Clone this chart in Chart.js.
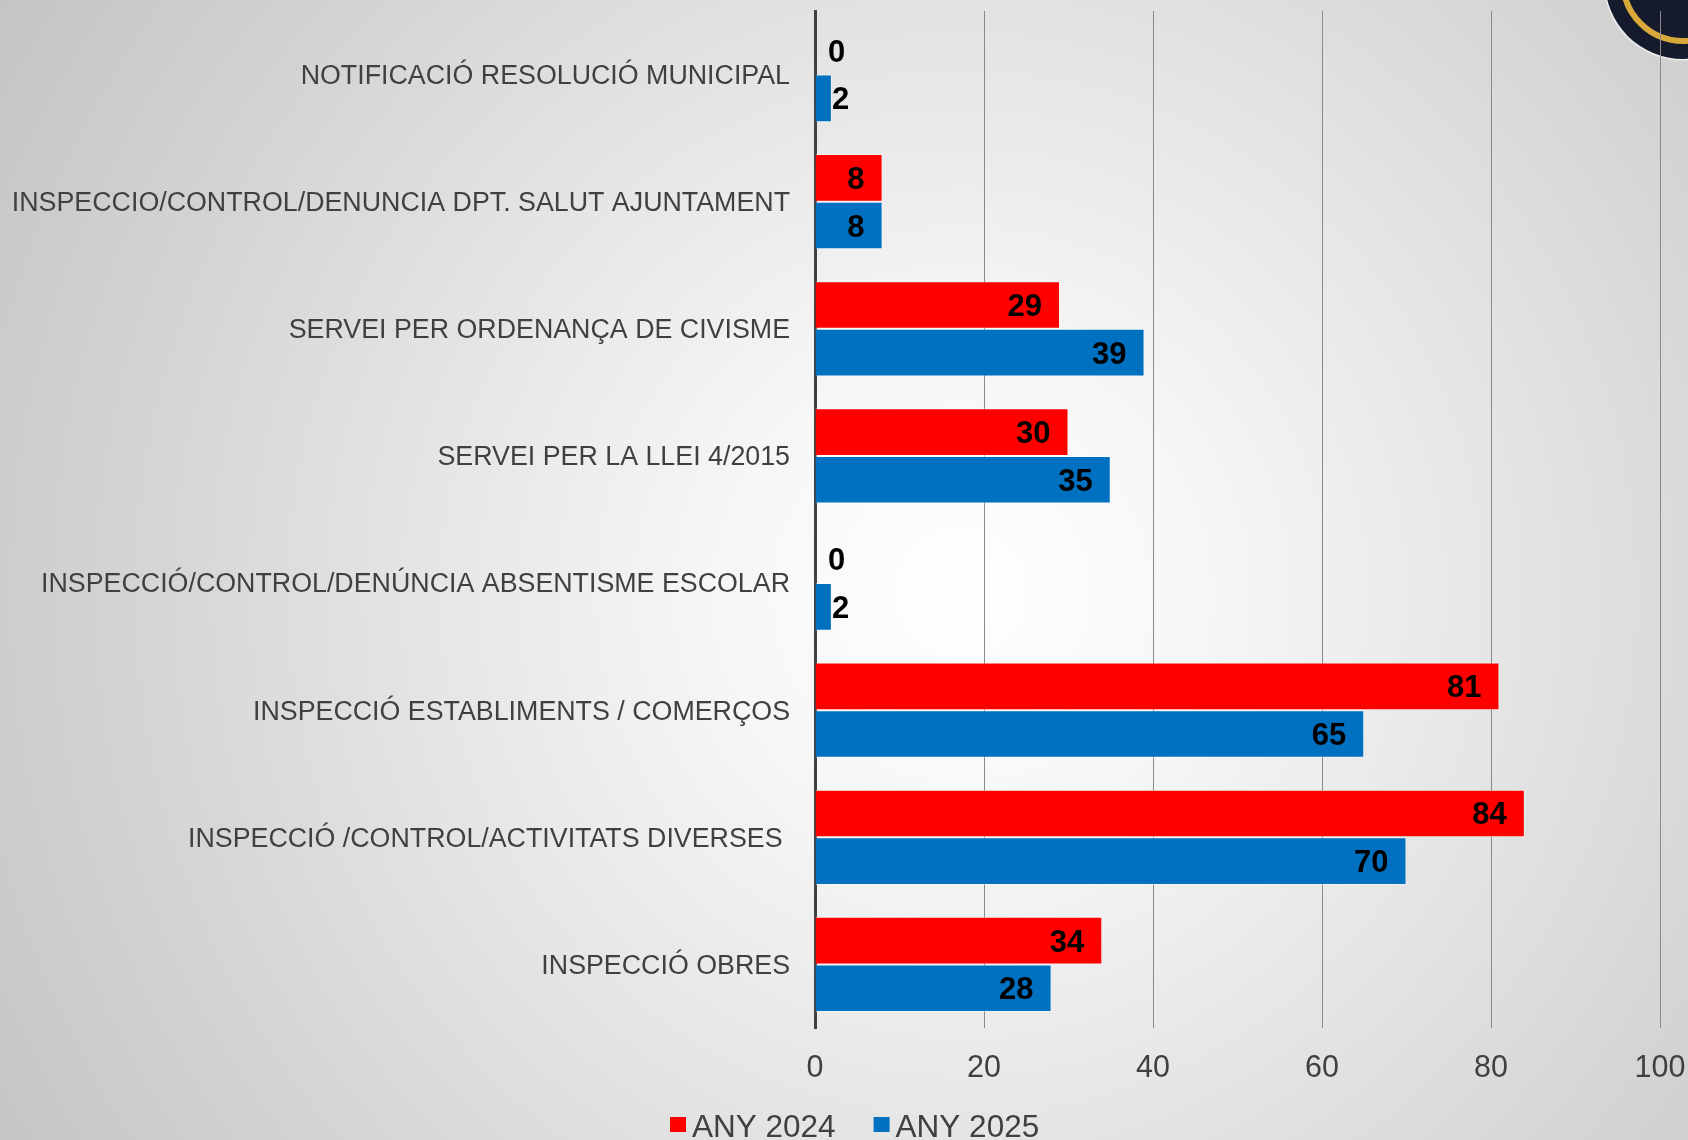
<!DOCTYPE html>
<html>
<head>
<meta charset="utf-8">
<title>Inspeccions</title>
<script src="https://cdn.jsdelivr.net/npm/chart.js@4/dist/chart.umd.min.js"></script>
<style>
    html, body {
        margin: 0;
        padding: 0;
        width: 1688px;
        height: 1140px;
        overflow: hidden;
    }
    body {
        position: relative;
        background: radial-gradient(circle at 57% 52%, #ffffff 0%, #f6f6f6 22%, #e5e5e5 48%, #d3d3d3 75%, #c4c4c4 100%);
    }
    #badge {
        position: absolute;
        left: 1605px;
        top: -97px;
        width: 156px;
        height: 156px;
        border-radius: 50%;
        background: #151b2d;
        box-shadow: 0 0 2px 1px #ffffff;
    }
    #badge .ring {
        position: absolute;
        left: 15px;
        top: 15px;
        width: 126px;
        height: 126px;
        border-radius: 50%;
        border: 6px solid #d8a93a;
        box-sizing: border-box;
    }
    #chart {
        position: absolute;
        left: 0;
        top: 0;
    }
</style>
</head>
<body>
<div id="badge"><div class="ring"></div></div>
<canvas id="chart" width="1688" height="1140"></canvas>
<script>
// Data
var categories = [
    'NOTIFICACIÓ RESOLUCIÓ MUNICIPAL',
    'INSPECCIO/CONTROL/DENUNCIA DPT. SALUT AJUNTAMENT',
    'SERVEI PER ORDENANÇA DE CIVISME',
    'SERVEI PER LA LLEI 4/2015',
    'INSPECCIÓ/CONTROL/DENÚNCIA ABSENTISME ESCOLAR',
    'INSPECCIÓ ESTABLIMENTS / COMERÇOS',
    'INSPECCIÓ /CONTROL/ACTIVITATS DIVERSES ',
    'INSPECCIÓ OBRES'
];
var any2024 = [0, 8, 29, 30, 0, 81, 84, 34];
var any2025 = [2, 8, 39, 35, 2, 65, 70, 28];
var seriesNames = ['ANY 2024', 'ANY 2025'];
var axisTicks = [0, 20, 40, 60, 80, 100];

var FONT = '"Liberation Sans", Arial, sans-serif';
var RED = '#ff0000';
var BLUE = '#0070c0';
var TEXT = '#404040';

// Bold value labels at the end of each bar
var valueLabels = {
    id: 'valueLabels',
    afterDatasetsDraw: function(chart) {
        var ctx = chart.ctx;
        var base = chart.scales.x.getPixelForValue(0);
        ctx.save();
        ctx.font = 'bold 31px ' + FONT;
        ctx.fillStyle = '#000000';
        ctx.textBaseline = 'alphabetic';
        chart.data.datasets.forEach(function(ds, i) {
            var meta = chart.getDatasetMeta(i);
            meta.data.forEach(function(bar, j) {
                var v = ds.data[j];
                var txt = String(v);
                var y = bar.y + 11;
                if (v < 5) {
                    // too short to hold the label, put it just outside
                    ctx.textAlign = 'left';
                    ctx.fillText(txt, Math.max(bar.x, base + 13), y);
                } else {
                    ctx.textAlign = 'right';
                    ctx.fillText(txt, bar.x - 18, y);
                }
            });
        });
        ctx.restore();
    }
};

// Legend drawn under the axis
var bottomLegend = {
    id: 'bottomLegend',
    afterDraw: function(chart) {
        var ctx = chart.ctx;
        var colors = [RED, BLUE];
        var x = 670;
        ctx.save();
        ctx.font = '31.5px ' + FONT;
        ctx.textAlign = 'left';
        ctx.textBaseline = 'alphabetic';
        seriesNames.forEach(function(name, i) {
            ctx.fillStyle = colors[i];
            ctx.fillRect(x, 1117, 16, 15);
            ctx.fillStyle = TEXT;
            ctx.fillText(name, x + 22, 1137);
            x += 22 + ctx.measureText(name).width + 38;
        });
        ctx.restore();
    }
};

var ctx = document.getElementById('chart').getContext('2d');
var chart = new Chart(ctx, {
    type: 'bar',
    data: {
        labels: categories,
        datasets: [
            {
                label: seriesNames[0],
                data: any2024,
                backgroundColor: RED,
                borderColor: 'rgba(255, 255, 255, 0.45)',
                borderWidth: 1
            },
            {
                label: seriesNames[1],
                data: any2025,
                backgroundColor: BLUE,
                borderColor: 'rgba(255, 255, 255, 0.45)',
                borderWidth: 1
            }
        ]
    },
    options: {
        indexAxis: 'y',
        responsive: false,
        animation: false,
        datasets: {
            bar: {
                categoryPercentage: 0.75,
                barPercentage: 1.0
            }
        },
        layout: {
            padding: { left: 0, top: 11, right: 28, bottom: 0 }
        },
        plugins: {
            legend: { display: false },
            tooltip: { enabled: false }
        },
        scales: {
            x: {
                min: 0,
                max: 100,
                afterBuildTicks: function(scale) {
                    scale.ticks = axisTicks.map(function(v) { return { value: v }; });
                },
                afterFit: function(scale) {
                    scale.height = 112;
                    scale.paddingLeft = 0;
                    scale.paddingRight = 28;
                },
                grid: {
                    color: '#8a8a8a',
                    lineWidth: 1,
                    drawTicks: false
                },
                border: { display: false },
                ticks: {
                    padding: 22,
                    color: TEXT,
                    font: { family: FONT, size: 30.5 }
                }
            },
            y: {
                afterFit: function(scale) {
                    scale.width = 815;
                    scale.paddingTop = 11;
                    scale.paddingBottom = 0;
                },
                grid: { display: false, drawTicks: false },
                border: { display: true, color: '#404040', width: 3 },
                ticks: {
                    padding: 25,
                    labelOffset: 2,
                    color: TEXT,
                    font: { family: FONT, size: 26.8 }
                }
            }
        }
    },
    plugins: [valueLabels, bottomLegend]
});
</script>
</body>
</html>
